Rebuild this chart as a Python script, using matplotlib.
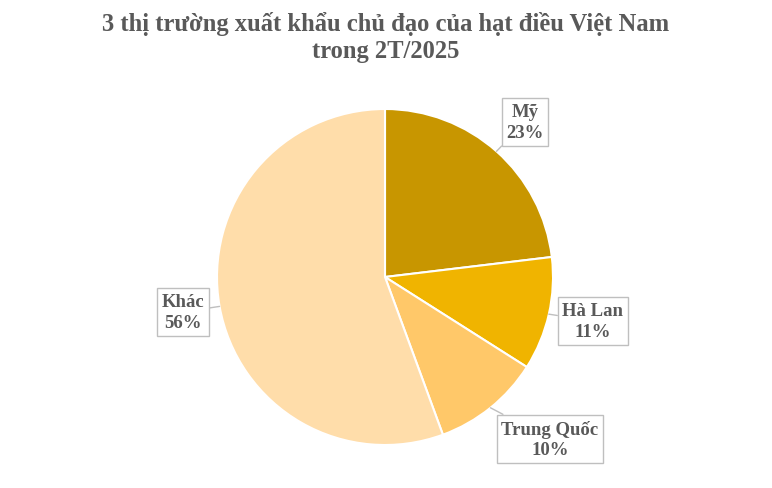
import numpy as np
import matplotlib.pyplot as plt

# data
labels = ["Mỹ", "Hà Lan", "Trung Quốc", "Khác"]
shares = [23.1, 10.9, 10.4, 55.6]
colors = ["#C89600", "#F0B400", "#FFC869", "#FFDDAA"]
# label box centres in axes data units (pie radius = 1)
label_pos = [(0.833, 0.923), (1.238, -0.262), (0.982, -0.964), (-1.202, -0.208)]

title = "3 thị trường xuất khẩu chủ đạo của hạt điều Việt Nam\ntrong 2T/2025"

plt.rcParams["font.family"] = ["Liberation Serif", "DejaVu Serif"]
text_color = "#595959"

fig = plt.figure(figsize=(7.72, 4.89), dpi=100)
ax = fig.add_axes([217 / 772, 43 / 489, 336 / 772, 336 / 489])

wedges, _ = ax.pie(
    shares,
    colors=colors,
    startangle=90,
    counterclock=False,
    radius=1,
    wedgeprops=dict(edgecolor="white", linewidth=1.5),
)
ax.set_xlim(-1, 1)
ax.set_ylim(-1, 1)
ax.set_aspect("equal")
ax.axis("off")

total = sum(shares)
cum = 0
for lab, val, (tx, ty) in zip(labels, shares, label_pos):
    mid = 90 - (cum + val / 2) / total * 360
    cum += val
    ex, ey = np.cos(np.radians(mid)), np.sin(np.radians(mid))
    ax.annotate(
        f"{lab}\n{round(val / total * 100)}%",
        xy=(ex, ey),
        xytext=(tx, ty),
        ha="center",
        va="center",
        fontsize=13.5,
        fontweight="bold",
        color=text_color,
        linespacing=1.3,
        bbox=dict(boxstyle="square,pad=0.25", facecolor="white", edgecolor="#BFBFBF", linewidth=1),
        arrowprops=dict(arrowstyle="-", color="#BFBFBF", linewidth=1, shrinkA=0, shrinkB=0),
        annotation_clip=False,
    )

fig.text(0.5, 1 - 37.5 / 489, title, ha="center", va="center", fontsize=17.7,
         fontweight="bold", color=text_color, linespacing=1.22)

fig.savefig("out.png", dpi=100)
